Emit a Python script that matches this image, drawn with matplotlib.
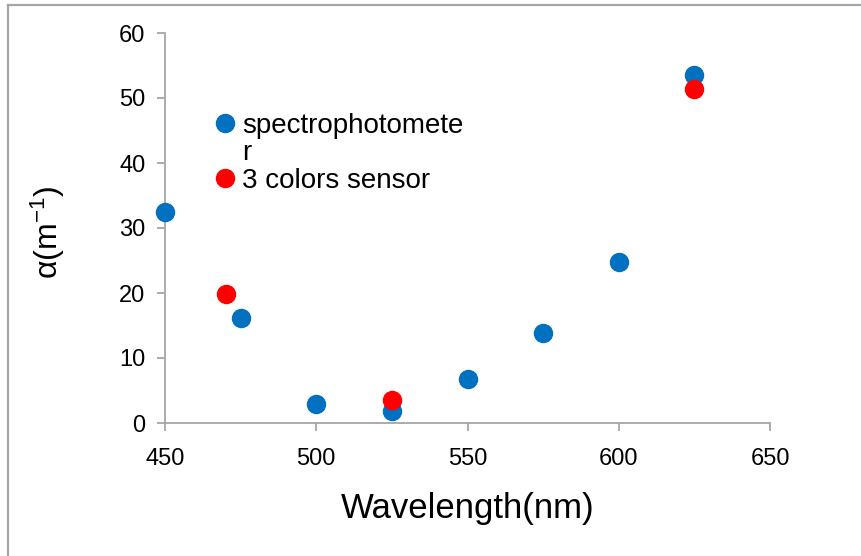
import matplotlib
matplotlib.use("Agg")
import matplotlib.pyplot as plt
from matplotlib.lines import Line2D

plt.rcParams['font.family'] = ['Liberation Sans', 'DejaVu Sans']
plt.rcParams['mathtext.fontset'] = 'custom'
plt.rcParams['mathtext.rm'] = 'Liberation Sans'
plt.rcParams['mathtext.it'] = 'Liberation Sans'

# Data
spec_wavelength = [450, 475, 500, 525, 550, 575, 600, 625]
spec_alpha = [32.4, 16.2, 2.9, 1.8, 6.8, 13.8, 24.7, 53.5]
sensor_wavelength = [470, 525, 625]
sensor_alpha = [19.8, 3.5, 51.4]
x_ticks = [450, 500, 550, 600, 650]
y_ticks = [0, 10, 20, 30, 40, 50, 60]
spec_label = "spectrophotomete"
spec_label_wrap = "r"
sensor_label = "3 colors sensor"

blue = '#0070c0'
red = '#ff0000'
grey = '#a6a6a6'

fig = plt.figure(figsize=(8.61, 5.56), dpi=100)
ax = fig.add_axes([165/861, 1-423/556, 605/861, 390/556])

ax.plot(spec_wavelength, spec_alpha, linestyle='none', marker='o', ms=13,
        color=blue, mec=blue, clip_on=False, zorder=3)
ax.plot(sensor_wavelength, sensor_alpha, linestyle='none', marker='o', ms=13,
        color=red, mec=red, clip_on=False, zorder=4)

ax.set_xlim(450, 650)
ax.set_ylim(0, 60)
ax.set_xticks(x_ticks)
ax.set_yticks(y_ticks)
for s in ['top', 'right']:
    ax.spines[s].set_visible(False)
for s in ['left', 'bottom']:
    ax.spines[s].set_color(grey)
    ax.spines[s].set_linewidth(1.3)
ax.tick_params(axis='both', direction='out', length=6, width=1.3, color=grey,
               labelsize=17, labelcolor='black')
ax.tick_params(axis='x', pad=12)
ax.tick_params(axis='y', pad=8)

ax.set_xlabel('Wavelength(nm)', fontsize=25, labelpad=16)
ax.set_ylabel(r'$\mathrm{\alpha(m^{-1})}$', fontsize=23)
ax.yaxis.set_label_coords(-0.162, 0.49)

handles = [
    Line2D([], [], linestyle='none', marker='o', ms=13, color=blue),
    Line2D([], [], linestyle='none', marker=None),
    Line2D([], [], linestyle='none', marker='o', ms=13, color=red),
]
labels = [spec_label, spec_label_wrap, sensor_label]
leg = ax.legend(handles, labels, loc='upper left',
                bbox_to_anchor=((214-165)/605, (423-113)/390),
                frameon=False, fontsize=20, handlelength=0.8,
                handletextpad=0.22, labelspacing=0.05, borderpad=0,
                borderaxespad=0)

# figure border (top & left)
fig.add_artist(Line2D([8/861, 8/861], [0, 1-5/556], transform=fig.transFigure,
                      color=grey, lw=1.6))
fig.add_artist(Line2D([8/861, 1], [1-5/556, 1-5/556], transform=fig.transFigure,
                      color=grey, lw=1.6))

fig.savefig('out.png', dpi=100)
